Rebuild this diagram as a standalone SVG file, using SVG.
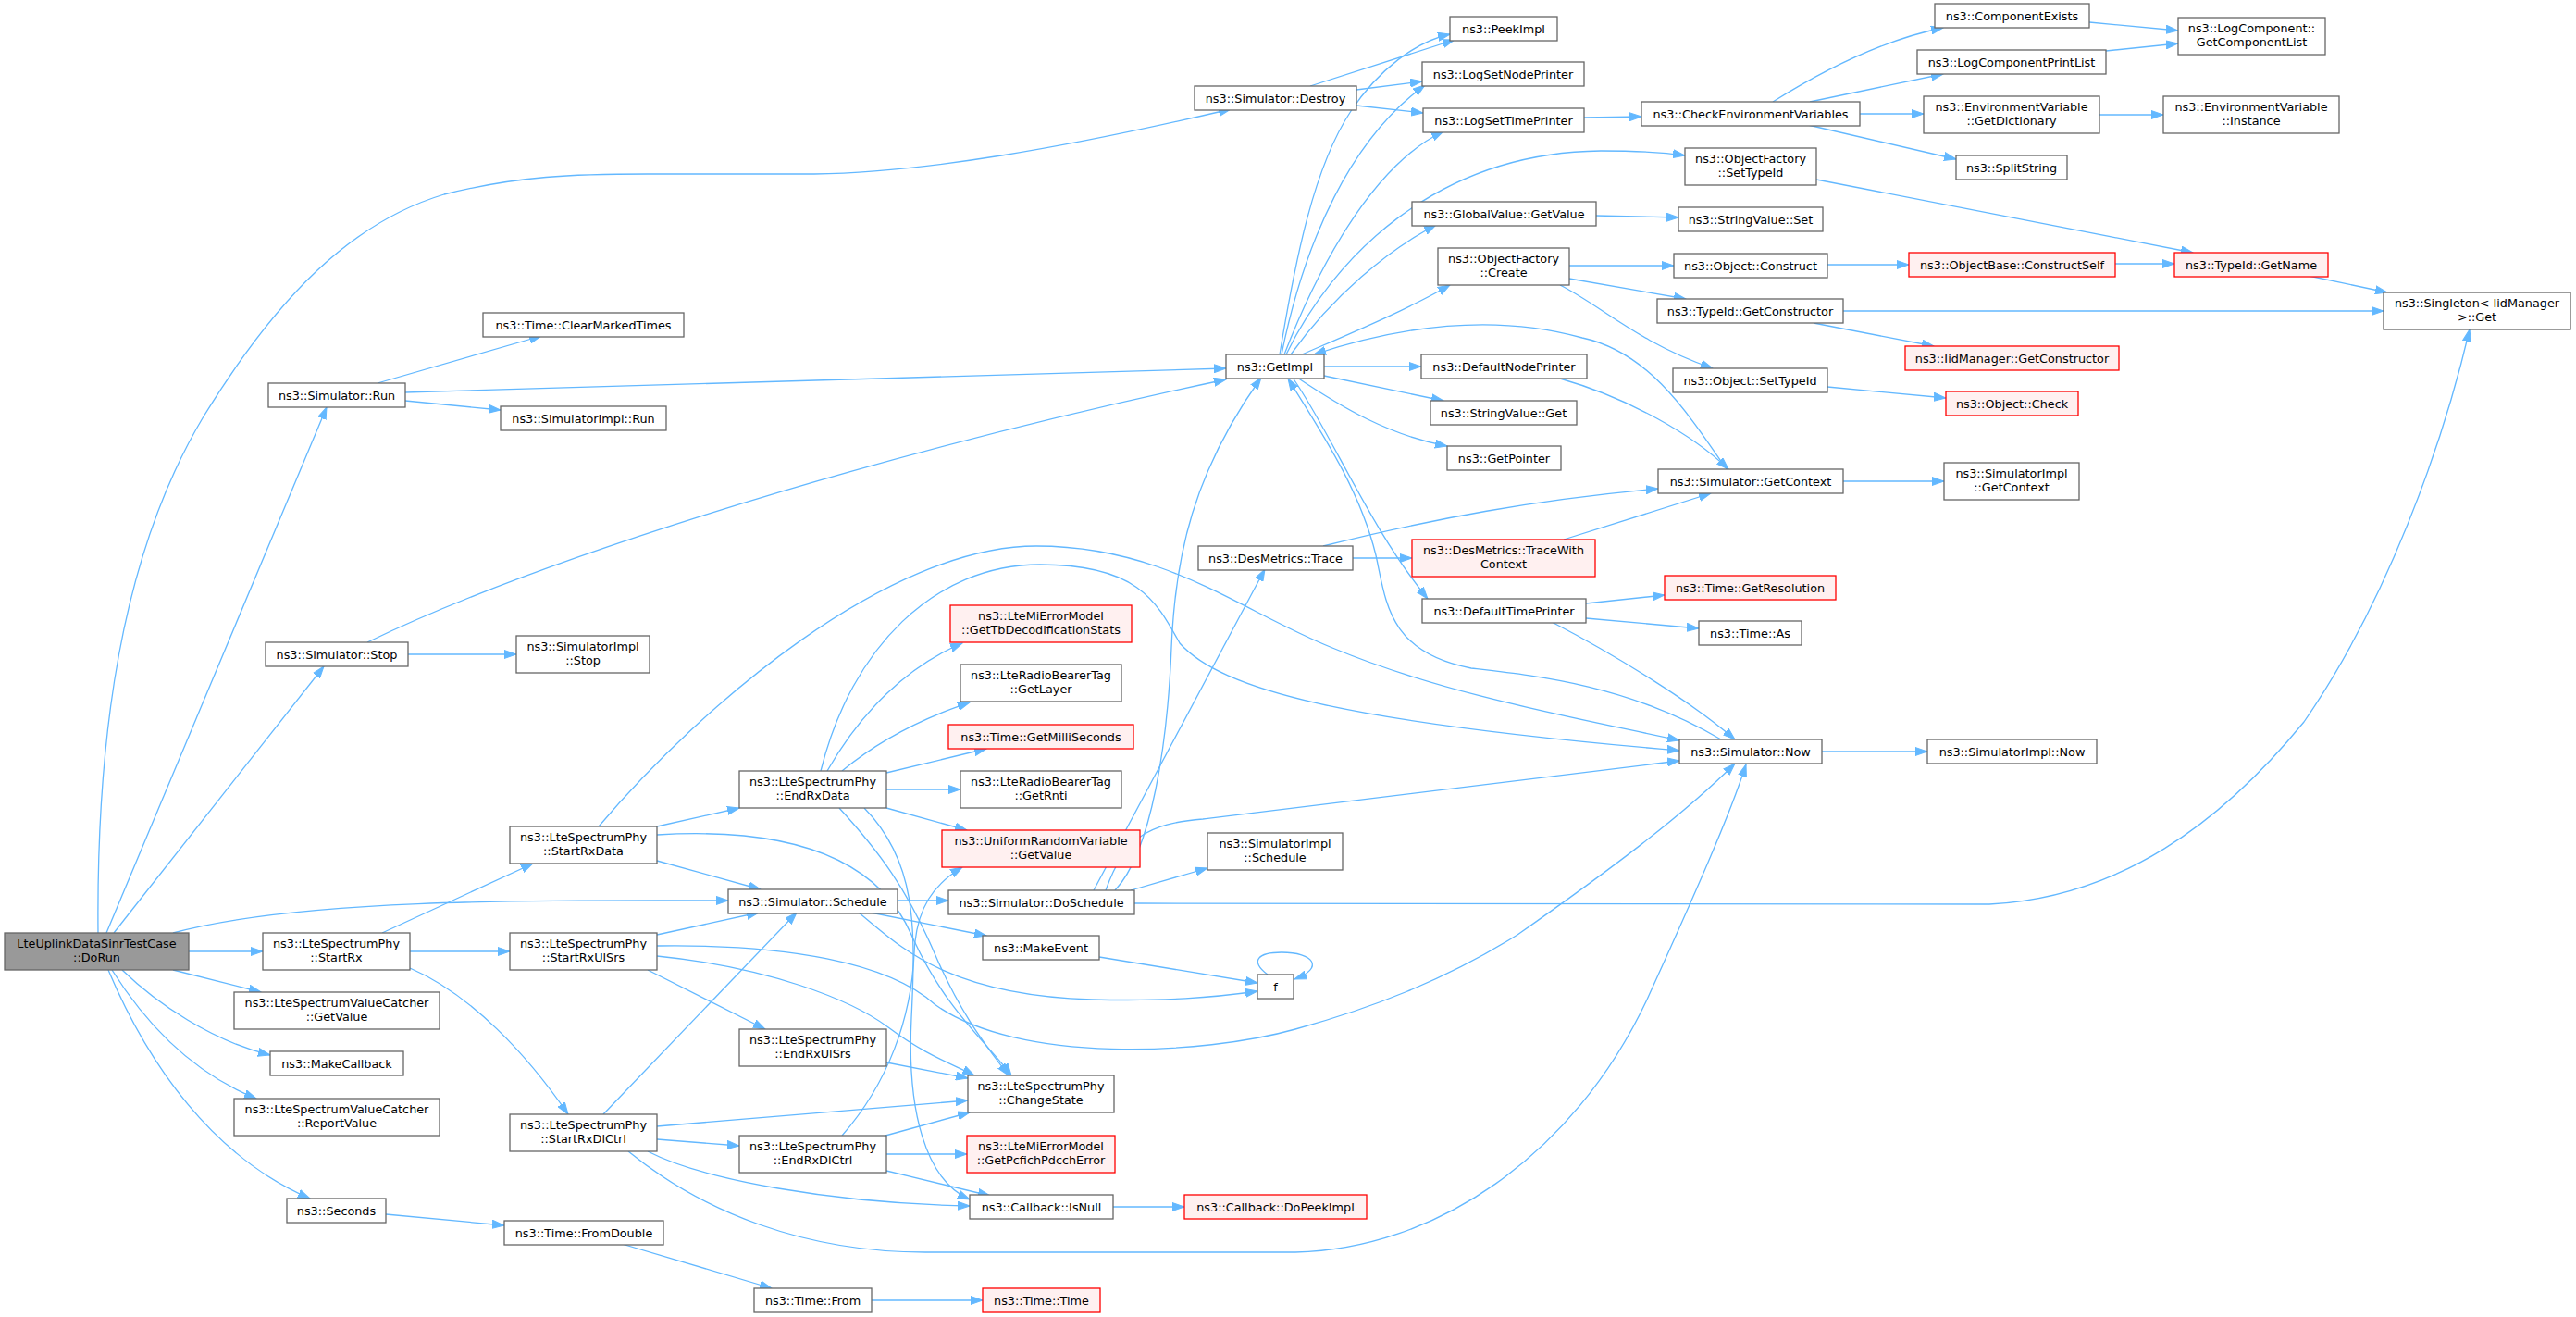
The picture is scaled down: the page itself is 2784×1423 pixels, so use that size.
<svg xmlns="http://www.w3.org/2000/svg" width="2784" height="1423" viewBox="0 0 2784 1423">
<style>
.node rect{fill:#ffffff;stroke:#666666;stroke-width:1.3}
.node.red rect{fill:#fff0f0;stroke:#ff0000}
.node.gray rect{fill:#999999;stroke:#666666}
.node text{font-family:"DejaVu Sans","Liberation Sans",sans-serif;font-size:12.8px;fill:#000000;text-anchor:middle}
#edges path{fill:none;stroke:#63b8ff;stroke-width:1.3;marker-end:url(#arr)}
</style>
<defs>
<marker id="arr" markerUnits="userSpaceOnUse" markerWidth="14" markerHeight="10" refX="13" refY="5" orient="auto">
<path d="M0,0.5 L13,5 L0,9.5 z" fill="#63b8ff" stroke="#63b8ff" stroke-width="1"/>
</marker>
</defs>
<rect x="0" y="0" width="2784" height="1423" fill="#ffffff"/>
<g id="edges">
<path d="M106,1008 C104,800 130,600 220,450 C300,320 380,240 480,210 C560,190 620,188 700,188 L880,188 C1000,186 1150,160 1330,118"/>
<path d="M115,1008 L353,440"/>
<path d="M123,1008 L350,720"/>
<path d="M187,1008 C320,972 560,972 787,973"/>
<path d="M204,1028 L284,1028"/>
<path d="M187,1048 L282,1072"/>
<path d="M132,1048 C170,1085 230,1125 292,1140"/>
<path d="M121,1048 C160,1110 210,1160 277,1187"/>
<path d="M117,1048 C160,1150 230,1250 335,1295"/>
<path d="M408,414 L585,363"/>
<path d="M438,424 C800,412 1100,402 1325,398"/>
<path d="M438,433 L541,443"/>
<path d="M441,707 L558,707"/>
<path d="M397,694 C560,615 900,500 1325,410"/>
<path d="M413,1008 L576,933"/>
<path d="M443,1028 L551,1028"/>
<path d="M443,1046 C510,1075 570,1140 614,1204"/>
<path d="M710,893 L799,873"/>
<path d="M710,930 L822,961"/>
<path d="M710,902 C860,893 950,930 985,1010 C1020,1090 1070,1130 1093,1162"/>
<path d="M647,893 C760,760 960,590 1120,590 C1260,590 1340,660 1440,700 C1560,750 1700,775 1815,800"/>
<path d="M894,833 C930,770 980,720 1040,695"/>
<path d="M910,833 C950,800 1000,775 1048,759"/>
<path d="M958,835 L1066,809"/>
<path d="M958,853 L1038,853"/>
<path d="M958,873 L1045,897"/>
<path d="M887,833 C920,700 1010,610 1124,610 C1230,610 1250,650 1275,695 C1320,745 1450,780 1815,811"/>
<path d="M907,873 C950,920 980,960 1010,1030 C1040,1100 1070,1135 1090,1162"/>
<path d="M934,873 C990,930 990,1000 985,1100 C980,1200 1000,1275 1048,1296"/>
<path d="M710,1010 L820,986"/>
<path d="M710,1022 C850,1020 960,1040 1010,1085 C1100,1150 1300,1140 1400,1112 C1480,1090 1560,1060 1640,1010 C1740,940 1820,880 1875,825"/>
<path d="M710,1033 C830,1045 920,1080 960,1110 C1000,1140 1030,1150 1053,1162"/>
<path d="M700,1048 L827,1112"/>
<path d="M652,1204 L861,986"/>
<path d="M710,1217 L1046,1189"/>
<path d="M710,1231 L799,1238"/>
<path d="M700,1244 C760,1275 900,1300 1048,1303"/>
<path d="M679,1244 C760,1310 870,1353 1000,1353 L1400,1353 C1550,1350 1700,1250 1780,1080 C1830,970 1870,880 1887,826"/>
<path d="M958,1148 L1046,1165"/>
<path d="M957,1227 L1048,1202"/>
<path d="M958,1247 L1045,1247"/>
<path d="M958,1265 L1070,1292"/>
<path d="M910,1227 C960,1170 985,1100 988,1030 C990,980 1010,955 1040,937"/>
<path d="M970,973 L1025,973"/>
<path d="M941,986 L1066,1011"/>
<path d="M928,986 C970,1020 1020,1075 1180,1080 C1260,1082 1310,1078 1359,1071"/>
<path d="M1188,1034 L1359,1062"/>
<path d="M1370,1053 C1350,1038 1360,1029 1385,1029 C1420,1029 1432,1046 1399,1058"/>
<path d="M1182,962 L1367,615"/>
<path d="M1222,962 L1305,938"/>
<path d="M1226,976 L2150,977 C2290,970 2400,890 2490,780 C2580,650 2640,480 2669,356"/>
<path d="M1195,962 C1215,905 1240,890 1300,885 C1500,862 1700,835 1815,822"/>
<path d="M1205,962 C1245,920 1262,800 1266,700 C1270,600 1290,510 1363,408"/>
<path d="M1462,603 L1526,603"/>
<path d="M1430,590 C1550,560 1660,540 1792,528"/>
<path d="M1690,583 L1849,533"/>
<path d="M1992,520 L2101,520"/>
<path d="M1866,507 C1820,440 1780,380 1710,365 C1620,340 1520,350 1420,383"/>
<path d="M1686,409 C1760,430 1830,470 1868,507"/>
<path d="M1969,812 L2083,812"/>
<path d="M1860,799 C1760,740 1660,730 1590,722 C1500,705 1498,650 1487,600 C1470,530 1430,470 1392,409"/>
<path d="M1383,383 C1400,280 1420,180 1460,120 C1490,75 1530,45 1567,37"/>
<path d="M1385,383 C1410,260 1460,150 1540,92"/>
<path d="M1388,383 C1420,300 1480,180 1560,142"/>
<path d="M1390,383 C1440,280 1550,165 1730,163 C1770,163 1800,165 1821,168"/>
<path d="M1395,383 C1440,320 1500,270 1552,243"/>
<path d="M1407,383 C1460,360 1520,335 1567,308"/>
<path d="M1431,396 L1536,396"/>
<path d="M1431,406 L1560,433"/>
<path d="M1402,408 C1450,440 1500,470 1564,482"/>
<path d="M1397,408 C1440,470 1480,570 1543,647"/>
<path d="M1416,93 L1572,43"/>
<path d="M1466,97 L1537,88"/>
<path d="M1466,114 L1538,122"/>
<path d="M1712,127 L1774,126"/>
<path d="M1916,110 C1980,70 2040,42 2100,30"/>
<path d="M1956,110 L2100,80"/>
<path d="M2010,123 L2079,123"/>
<path d="M1954,135 L2114,172"/>
<path d="M2258,24 L2354,33"/>
<path d="M2276,55 L2354,47"/>
<path d="M2269,124 L2338,124"/>
<path d="M1963,194 L2370,273"/>
<path d="M1725,233 L1814,235"/>
<path d="M1696,287 L1809,287"/>
<path d="M1696,301 L1822,323"/>
<path d="M1686,308 C1730,330 1770,370 1851,398"/>
<path d="M1975,286 L2063,286"/>
<path d="M2286,285 L2350,285"/>
<path d="M2495,298 L2580,316"/>
<path d="M1992,336 L2576,336"/>
<path d="M1960,349 L2090,374"/>
<path d="M1975,418 L2103,430"/>
<path d="M1714,652 L1799,643"/>
<path d="M1714,668 L1836,679"/>
<path d="M1677,672 C1750,710 1830,760 1875,799"/>
<path d="M417,1312 L545,1324"/>
<path d="M672,1344 L834,1392"/>
<path d="M942,1405 L1062,1405"/>
<path d="M1203,1304 L1280,1304"/>
</g>
<g id="n_dorun" class="node gray"><rect x="5" y="1008" width="199" height="40"/><text x="104.5" y="1024">LteUplinkDataSinrTestCase</text><text x="104.5" y="1039">::DoRun</text></g>
<g id="n_destroy" class="node"><rect x="1291" y="93" width="175" height="26"/><text x="1378.5" y="110.5">ns3::Simulator::Destroy</text></g>
<g id="n_run" class="node"><rect x="290" y="414" width="148" height="26"/><text x="364" y="431.5">ns3::Simulator::Run</text></g>
<g id="n_stop" class="node"><rect x="287" y="694" width="154" height="26"/><text x="364" y="711.5">ns3::Simulator::Stop</text></g>
<g id="n_schedule" class="node"><rect x="787" y="961" width="183" height="26"/><text x="878.5" y="978.5">ns3::Simulator::Schedule</text></g>
<g id="n_startrx" class="node"><rect x="284" y="1008" width="159" height="40"/><text x="363.5" y="1024">ns3::LteSpectrumPhy</text><text x="363.5" y="1039">::StartRx</text></g>
<g id="n_catcher_getvalue" class="node"><rect x="253" y="1072" width="222" height="40"/><text x="364" y="1088">ns3::LteSpectrumValueCatcher</text><text x="364" y="1103">::GetValue</text></g>
<g id="n_makecallback" class="node"><rect x="292" y="1136" width="144" height="26"/><text x="364" y="1153.5">ns3::MakeCallback</text></g>
<g id="n_reportvalue" class="node"><rect x="253" y="1187" width="222" height="40"/><text x="364" y="1203">ns3::LteSpectrumValueCatcher</text><text x="364" y="1218">::ReportValue</text></g>
<g id="n_seconds" class="node"><rect x="310" y="1295" width="107" height="26"/><text x="363.5" y="1312.5">ns3::Seconds</text></g>
<g id="n_clearmarked" class="node"><rect x="522" y="338" width="217" height="26"/><text x="630.5" y="355.5">ns3::Time::ClearMarkedTimes</text></g>
<g id="n_simimpl_run" class="node"><rect x="541" y="439" width="179" height="26"/><text x="630.5" y="456.5">ns3::SimulatorImpl::Run</text></g>
<g id="n_simimpl_stop" class="node"><rect x="558" y="687" width="144" height="40"/><text x="630" y="703">ns3::SimulatorImpl</text><text x="630" y="718">::Stop</text></g>
<g id="n_startrxdata" class="node"><rect x="551" y="893" width="159" height="40"/><text x="630.5" y="909">ns3::LteSpectrumPhy</text><text x="630.5" y="924">::StartRxData</text></g>
<g id="n_startrxulsrs" class="node"><rect x="551" y="1008" width="159" height="40"/><text x="630.5" y="1024">ns3::LteSpectrumPhy</text><text x="630.5" y="1039">::StartRxUlSrs</text></g>
<g id="n_startrxdlctrl" class="node"><rect x="551" y="1204" width="159" height="40"/><text x="630.5" y="1220">ns3::LteSpectrumPhy</text><text x="630.5" y="1235">::StartRxDlCtrl</text></g>
<g id="n_fromdouble" class="node"><rect x="545" y="1319" width="172" height="26"/><text x="631" y="1336.5">ns3::Time::FromDouble</text></g>
<g id="n_getimpl" class="node"><rect x="1325" y="383" width="106" height="26"/><text x="1378" y="400.5">ns3::GetImpl</text></g>
<g id="n_desmetrics_trace" class="node"><rect x="1295" y="590" width="167" height="26"/><text x="1378.5" y="607.5">ns3::DesMetrics::Trace</text></g>
<g id="n_gettbdecod" class="node red"><rect x="1027" y="654" width="196" height="40"/><text x="1125" y="670">ns3::LteMiErrorModel</text><text x="1125" y="685">::GetTbDecodificationStats</text></g>
<g id="n_getlayer" class="node"><rect x="1038" y="718" width="174" height="40"/><text x="1125" y="734">ns3::LteRadioBearerTag</text><text x="1125" y="749">::GetLayer</text></g>
<g id="n_getmilliseconds" class="node red"><rect x="1025" y="783" width="200" height="26"/><text x="1125" y="800.5">ns3::Time::GetMilliSeconds</text></g>
<g id="n_getrnti" class="node"><rect x="1038" y="833" width="174" height="40"/><text x="1125" y="849">ns3::LteRadioBearerTag</text><text x="1125" y="864">::GetRnti</text></g>
<g id="n_urv_getvalue" class="node red"><rect x="1018" y="897" width="214" height="40"/><text x="1125" y="913">ns3::UniformRandomVariable</text><text x="1125" y="928">::GetValue</text></g>
<g id="n_endrxdata" class="node"><rect x="799" y="833" width="159" height="40"/><text x="878.5" y="849">ns3::LteSpectrumPhy</text><text x="878.5" y="864">::EndRxData</text></g>
<g id="n_simimpl_schedule" class="node"><rect x="1305" y="900" width="146" height="40"/><text x="1378" y="916">ns3::SimulatorImpl</text><text x="1378" y="931">::Schedule</text></g>
<g id="n_doschedule" class="node"><rect x="1025" y="962" width="201" height="26"/><text x="1125.5" y="979.5">ns3::Simulator::DoSchedule</text></g>
<g id="n_makeevent" class="node"><rect x="1062" y="1011" width="126" height="26"/><text x="1125" y="1028.5">ns3::MakeEvent</text></g>
<g id="n_f" class="node"><rect x="1359" y="1053" width="39" height="26"/><text x="1378.5" y="1070.5">f</text></g>
<g id="n_endrxulsrs" class="node"><rect x="799" y="1112" width="159" height="40"/><text x="878.5" y="1128">ns3::LteSpectrumPhy</text><text x="878.5" y="1143">::EndRxUlSrs</text></g>
<g id="n_changestate" class="node"><rect x="1046" y="1162" width="158" height="40"/><text x="1125" y="1178">ns3::LteSpectrumPhy</text><text x="1125" y="1193">::ChangeState</text></g>
<g id="n_endrxdlctrl" class="node"><rect x="799" y="1227" width="159" height="40"/><text x="878.5" y="1243">ns3::LteSpectrumPhy</text><text x="878.5" y="1258">::EndRxDlCtrl</text></g>
<g id="n_getpcfich" class="node red"><rect x="1045" y="1227" width="160" height="40"/><text x="1125" y="1243">ns3::LteMiErrorModel</text><text x="1125" y="1258">::GetPcfichPdcchError</text></g>
<g id="n_isnull" class="node"><rect x="1048" y="1291" width="155" height="26"/><text x="1125.5" y="1308.5">ns3::Callback::IsNull</text></g>
<g id="n_dopeekimpl" class="node red"><rect x="1280" y="1291" width="197" height="26"/><text x="1378.5" y="1308.5">ns3::Callback::DoPeekImpl</text></g>
<g id="n_timefrom" class="node"><rect x="815" y="1392" width="127" height="26"/><text x="878.5" y="1409.5">ns3::Time::From</text></g>
<g id="n_timetime" class="node red"><rect x="1062" y="1392" width="127" height="26"/><text x="1125.5" y="1409.5">ns3::Time::Time</text></g>
<g id="n_peekimpl" class="node"><rect x="1567" y="18" width="116" height="26"/><text x="1625" y="35.5">ns3::PeekImpl</text></g>
<g id="n_logsetnodeprinter" class="node"><rect x="1537" y="67" width="175" height="26"/><text x="1624.5" y="84.5">ns3::LogSetNodePrinter</text></g>
<g id="n_logsettimeprinter" class="node"><rect x="1538" y="117" width="174" height="26"/><text x="1625" y="134.5">ns3::LogSetTimePrinter</text></g>
<g id="n_checkenv" class="node"><rect x="1774" y="110" width="236" height="26"/><text x="1892" y="127.5">ns3::CheckEnvironmentVariables</text></g>
<g id="n_of_settypeid" class="node"><rect x="1821" y="160" width="142" height="40"/><text x="1892" y="176">ns3::ObjectFactory</text><text x="1892" y="191">::SetTypeId</text></g>
<g id="n_globalvalue_getvalue" class="node"><rect x="1526" y="218" width="199" height="26"/><text x="1625.5" y="235.5">ns3::GlobalValue::GetValue</text></g>
<g id="n_stringvalue_set" class="node"><rect x="1814" y="224" width="156" height="26"/><text x="1892" y="241.5">ns3::StringValue::Set</text></g>
<g id="n_of_create" class="node"><rect x="1554" y="268" width="142" height="40"/><text x="1625" y="284">ns3::ObjectFactory</text><text x="1625" y="299">::Create</text></g>
<g id="n_object_construct" class="node"><rect x="1809" y="274" width="166" height="26"/><text x="1892" y="291.5">ns3::Object::Construct</text></g>
<g id="n_typeid_getconstructor" class="node"><rect x="1791" y="323" width="201" height="26"/><text x="1891.5" y="340.5">ns3::TypeId::GetConstructor</text></g>
<g id="n_defaultnodeprinter" class="node"><rect x="1536" y="383" width="179" height="26"/><text x="1625.5" y="400.5">ns3::DefaultNodePrinter</text></g>
<g id="n_object_settypeid" class="node"><rect x="1808" y="398" width="167" height="26"/><text x="1891.5" y="415.5">ns3::Object::SetTypeId</text></g>
<g id="n_stringvalue_get" class="node"><rect x="1546" y="433" width="158" height="26"/><text x="1625" y="450.5">ns3::StringValue::Get</text></g>
<g id="n_getpointer" class="node"><rect x="1564" y="482" width="123" height="26"/><text x="1625.5" y="499.5">ns3::GetPointer</text></g>
<g id="n_sim_getcontext" class="node"><rect x="1792" y="507" width="200" height="26"/><text x="1892" y="524.5">ns3::Simulator::GetContext</text></g>
<g id="n_tracewithcontext" class="node red"><rect x="1526" y="583" width="198" height="40"/><text x="1625" y="599">ns3::DesMetrics::TraceWith</text><text x="1625" y="614">Context</text></g>
<g id="n_getresolution" class="node red"><rect x="1799" y="622" width="185" height="26"/><text x="1891.5" y="639.5">ns3::Time::GetResolution</text></g>
<g id="n_defaulttimeprinter" class="node"><rect x="1537" y="647" width="177" height="26"/><text x="1625.5" y="664.5">ns3::DefaultTimePrinter</text></g>
<g id="n_time_as" class="node"><rect x="1836" y="671" width="111" height="26"/><text x="1891.5" y="688.5">ns3::Time::As</text></g>
<g id="n_sim_now" class="node"><rect x="1815" y="799" width="154" height="26"/><text x="1892" y="816.5">ns3::Simulator::Now</text></g>
<g id="n_simimpl_now" class="node"><rect x="2083" y="799" width="183" height="26"/><text x="2174.5" y="816.5">ns3::SimulatorImpl::Now</text></g>
<g id="n_componentexists" class="node"><rect x="2091" y="4" width="167" height="26"/><text x="2174.5" y="21.5">ns3::ComponentExists</text></g>
<g id="n_getcomponentlist" class="node"><rect x="2354" y="19" width="159" height="40"/><text x="2433.5" y="35">ns3::LogComponent::</text><text x="2433.5" y="50">GetComponentList</text></g>
<g id="n_logcomponentprintlist" class="node"><rect x="2072" y="54" width="204" height="26"/><text x="2174" y="71.5">ns3::LogComponentPrintList</text></g>
<g id="n_getdictionary" class="node"><rect x="2079" y="104" width="190" height="40"/><text x="2174" y="120">ns3::EnvironmentVariable</text><text x="2174" y="135">::GetDictionary</text></g>
<g id="n_env_instance" class="node"><rect x="2338" y="104" width="190" height="40"/><text x="2433" y="120">ns3::EnvironmentVariable</text><text x="2433" y="135">::Instance</text></g>
<g id="n_splitstring" class="node"><rect x="2114" y="168" width="120" height="26"/><text x="2174" y="185.5">ns3::SplitString</text></g>
<g id="n_constructself" class="node red"><rect x="2063" y="273" width="223" height="26"/><text x="2174.5" y="290.5">ns3::ObjectBase::ConstructSelf</text></g>
<g id="n_getname" class="node red"><rect x="2350" y="273" width="166" height="26"/><text x="2433" y="290.5">ns3::TypeId::GetName</text></g>
<g id="n_singleton" class="node"><rect x="2576" y="316" width="202" height="40"/><text x="2677" y="332">ns3::Singleton&lt; IidManager</text><text x="2677" y="347">&gt;::Get</text></g>
<g id="n_iid_getconstructor" class="node red"><rect x="2059" y="374" width="231" height="26"/><text x="2174.5" y="391.5">ns3::IidManager::GetConstructor</text></g>
<g id="n_object_check" class="node red"><rect x="2103" y="423" width="143" height="26"/><text x="2174.5" y="440.5">ns3::Object::Check</text></g>
<g id="n_simimpl_getcontext" class="node"><rect x="2101" y="500" width="146" height="40"/><text x="2174" y="516">ns3::SimulatorImpl</text><text x="2174" y="531">::GetContext</text></g>
</svg>
